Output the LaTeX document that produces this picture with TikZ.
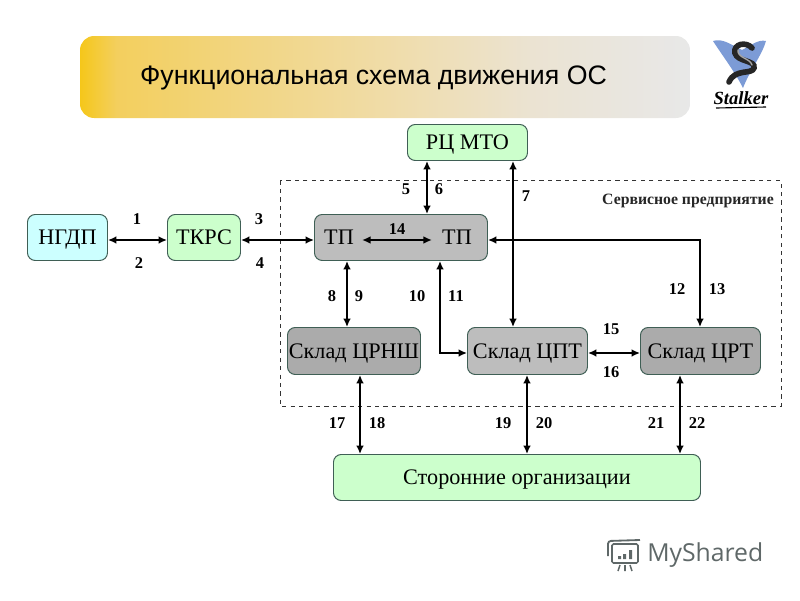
\documentclass[tikz,border=0pt]{standalone}
\usepackage{fontspec}
\setmainfont{Liberation Serif}
\newfontfamily\titlefont{Liberation Sans}
\newfontfamily\brandfont{Open Sans}
\usepackage{xcolor}
\usepackage{tikz}
\usetikzlibrary{arrows.meta, calc}

\definecolor{boxgreen}{HTML}{CCFFCC}
\definecolor{boxcyan}{HTML}{CCFFFF}
\definecolor{boxgrayA}{HTML}{BDBDBD}
\definecolor{boxgrayB}{HTML}{ABABAB}
\definecolor{boxedge}{HTML}{3F5F55}
\definecolor{brandgray}{HTML}{5F6868}
\definecolor{logoblue}{HTML}{7C9BD6}
\definecolor{titleA}{HTML}{F5C71A}
\definecolor{titleB}{HTML}{F3CF5E}
\definecolor{titleC}{HTML}{F0DCA8}
\definecolor{titleD}{HTML}{EBE3D2}
\definecolor{titleE}{HTML}{E8E8E8}
\pgfdeclarehorizontalshading{titlefill}{100bp}{
	color(0bp)=(titleA); color(25bp)=(titleA); color(28bp)=(titleB);
	color(50bp)=(titleC); color(62bp)=(titleD); color(75bp)=(titleE); color(100bp)=(titleE)}

\tikzset{
	box/.style={draw=boxedge, line width=0.7pt, rounded corners=5.5pt, inner sep=0pt,
		font=\fontsize{15.8}{17}\selectfont, text height=10.4pt, text depth=0pt, anchor=north west},
	tplabel/.style={font=\fontsize{15.8}{17}\selectfont, text height=10.4pt, text depth=0pt, inner sep=0pt},
	num/.style={font=\fontsize{11.7}{13}\selectfont\bfseries, inner sep=0pt},
	link/.style={line width=1.3pt, {Latex[length=6pt,width=5.5pt]}-{Latex[length=6pt,width=5.5pt]}},
}

\begin{document}
\begin{tikzpicture}[x=0.25mm, y=-0.25mm]
	\useasboundingbox (0,0) rectangle (800,600);
	% header
	\path[shading=titlefill, rounded corners=10pt] (80,36) rectangle (690,118);
	\node[font=\titlefont\fontsize{19}{21}\selectfont, text height=13.6pt, text depth=0pt, inner sep=0pt] (title) at (373.5,75) {Функциональная схема движения ОС};

	% logo
	\fill[logoblue] (713,41) .. controls (722,38) and (730,44) .. (742,50) .. controls (750,46) and (758,39) .. (766,41)
	.. controls (762,55) and (750,70) .. (743,88) .. controls (735,72) and (722,55) .. (713,41) -- cycle;
	\draw[black!85, line width=4pt, line cap=round]
	(752,48) .. controls (746,41) and (733,44) .. (735,53) .. controls (737,62) and (756,60) .. (754,68)
	.. controls (752,75) and (735,68) .. (729,82);
	\draw[black!35, line width=1pt, line cap=round]
	(738,50) .. controls (737,58) and (750,58) .. (752,65);
	\node[font=\fontsize{13.2}{13}\selectfont\bfseries\itshape, inner sep=0pt] (stalker) at (741,98) {Stalker};
	\draw[black, line width=0.8pt] (716,108) -- (766,107);

	% service enterprise frame
	\draw[dashed, black!80, line width=0.5pt] (280,180.5) rectangle (781,406);
	\node[font=\fontsize{11.2}{13}\selectfont\bfseries, inner sep=0pt, text=black!85] (service) at (688,201) {Сервисное предприятие};

	% blocks
	\node[box, fill=boxcyan, minimum width=80*0.25mm, minimum height=46*0.25mm] (ngdp) at (27,214) {НГДП};
	\node[box, fill=boxgreen, minimum width=73*0.25mm, minimum height=46*0.25mm] (tkrs) at (167,214) {ТКРС};
	\node[box, fill=boxgrayA, minimum width=173*0.25mm, minimum height=46*0.25mm] (tp) at (314,214) {};
	\node[tplabel] (tpleft) at (339,237) {ТП};
	\node[tplabel] (tpright) at (457,237) {ТП};
	\node[box, fill=boxgreen, minimum width=120*0.25mm, minimum height=36*0.25mm] (rc) at (407,124) {РЦ МТО};
	\node[box, fill=boxgrayB, minimum width=133*0.25mm, minimum height=47*0.25mm] (crnsh) at (287,327) {Склад ЦРНШ};
	\node[box, fill=boxgrayA, minimum width=120*0.25mm, minimum height=47*0.25mm] (cpt) at (467,327) {Склад ЦПТ};
	\node[box, fill=boxgrayB, minimum width=120*0.25mm, minimum height=47*0.25mm] (crt) at (640,327) {Склад ЦРТ};
	\node[box, fill=boxgreen, minimum width=367*0.25mm, minimum height=46*0.25mm] (third) at (333,454) {Сторонние организации};

	% connectors
	\coordinate (rowtp) at (0,240);
	\coordinate (rowsk) at (0,353);
	\foreach \cname/\xa in {c5/427, c7/513, c8/347, c10/440, c12/700, c17/360, c19/527, c21/680}
	\coordinate (\cname) at (\xa,0);
	\coordinate (bend1) at (c10 |- rowsk);
	\coordinate (bend2) at (c12 |- rowtp);
	\coordinate (mid1) at ($(tpleft.east |- rowtp)+(8,0)$);
	\coordinate (mid2) at ($(tpright.west |- rowtp)+(-10,0)$);
	\draw[link] (ngdp.east |- rowtp) -- (tkrs.west |- rowtp);
	\draw[link] (tkrs.east |- rowtp) -- (tp.west |- rowtp);
	\draw[link] (mid1) -- (mid2);
	\draw[link] (rc.south -| c5) -- (tp.north -| c5);
	\draw[link] (rc.south -| c7) -- (cpt.north -| c7);
	\draw[link] (tp.south -| c8) -- (crnsh.north -| c8);
	\draw[link] (tp.south -| c10) -- (bend1) -- (cpt.west |- rowsk);
	\draw[link] (tp.east |- rowtp) -- (bend2) -- (crt.north -| c12);
	\draw[link] (cpt.east |- rowsk) -- (crt.west |- rowsk);
	\draw[link] (crnsh.south -| c17) -- (third.north -| c17);
	\draw[link] (cpt.south -| c19) -- (third.north -| c19);
	\draw[link] (crt.south -| c21) -- (third.north -| c21);

	% numbers
	\foreach \lab/\xa/\ya in {1/137/219, 2/139/263, 3/259/219, 4/260/263, 5/406/189, 6/439/189,
		7/526/196, 8/332/296, 9/359/296, 10/417/296, 11/456/296, 12/677/289, 13/717/289, 14/397/229,
		15/611/329, 16/611/372, 17/337/423, 18/377/423, 19/503/423, 20/544/423, 21/656/423, 22/697/423}
	\node[num] (n\lab) at (\xa,\ya) {\lab};

	% brand
	\node[font=\brandfont\fontsize{17.6}{18}\selectfont, text=brandgray, inner sep=0pt, anchor=west] (brand) at (647,555) {MyShared};
	\draw[brandgray, line width=1.1pt, rounded corners=1pt] (612,544) rectangle (638,563);
	\draw[brandgray, line width=1.3pt, rounded corners=2pt] (608,556) -- (608,541) -- (640,540);
	\fill[brandgray] (618,556) rectangle (621,559) (623,554) rectangle (626,559) (629,550) rectangle (632,559);
	\draw[brandgray, line width=1.1pt] (620,565) -- (618,571) (625,565) -- (625,571) (630,565) -- (632,571);
\end{tikzpicture}
\end{document}
